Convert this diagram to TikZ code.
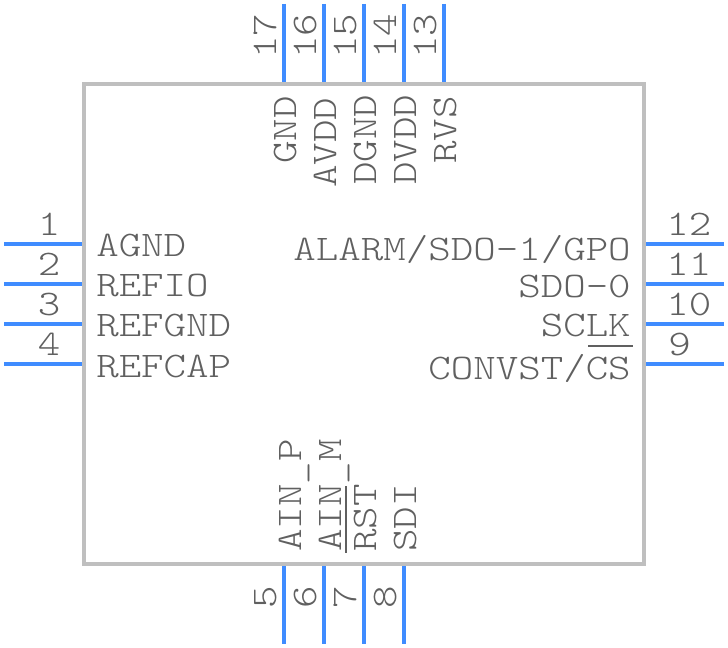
\documentclass[tikz,border=0pt]{standalone}
\usepackage{fontspec}
\setmainfont[FakeStretch=1.19]{Latin Modern Mono Light}
\definecolor{pinblue}{HTML}{3F8CFF}
\definecolor{bodygray}{HTML}{BFBFBF}
\definecolor{textgray}{HTML}{606060}
\newcommand{\lowbar}{\lower1.5pt\hbox{\_}}
\tikzset{
  pin/.style={draw=pinblue,line width=3pt},
  body/.style={draw=bodygray,line width=3pt},
  bar/.style={draw=textgray,line width=1.2pt},
  txt/.style={text=textgray,font=\fontsize{27}{30}\selectfont,inner sep=0pt},
  lbl/.style={txt,anchor=base west},
  lblr/.style={txt,anchor=base east},
  vlbl/.style={txt,rotate=90,anchor=base west}
}
\begin{document}
\begin{tikzpicture}[x=0.75pt,y=-0.75pt]
\useasboundingbox (0,0) rectangle (728,648);

\draw[body] (84,84) rectangle (644,564);

% left side
\foreach \n/\y/\t/\d in {1/244/AGND/13,2/284/REFIO/13,3/324/REFGND/13,4/364/REFCAP/14}
{
\draw[pin] (4,\y) -- (82,\y);
\node[txt,anchor=base] (num\n) at (49,\y-8) {\n};
\node[lbl] (name\n) at (96,\y+\d) {\t};
}

% right side
\foreach \n/\y/\t/\d in {12/244/ALARM\slash SDO-1\slash GPO/17,11/284/SDO-0/14,10/324/SCLK/13,9/364/CONVST\slash CS/15}
{
\draw[pin] (646,\y) -- (724,\y);
\node[lblr] (name\n) at (631,\y+\d) {\t};
}
\foreach \n/\y/\x in {12/236/666,11/276/666,10/316/666,9/356/668}
\node[lbl] (num\n) at (\x,\y) {\n};

% top side
\foreach \n/\x/\t/\b in {17/284/GND/164,16/324/AVDD/188,15/364/DGND/185,14/404/DVDD/185,13/444/RVS/164}
{
\draw[pin] (\x,4) -- (\x,82);
\node[vlbl] (num\n) at (\x-8,59) {\n};
\node[vlbl] (name\n) at (\x+12,\b) {\t};
}

% bottom side
\foreach \n/\x/\t in {5/284/AIN\lowbar P,6/324/AIN\lowbar M,7/364/RST,8/404/SDI}
{
\draw[pin] (\x,566) -- (\x,644);
\node[txt,rotate=90,anchor=base] (num\n) at (\x-8,597) {\n};
\node[vlbl] (name\n) at (\x+\ifnum\n>6 12\else 17\fi,552) {\t};
}

% active low bars
\draw[bar] (588,346) -- (633,346);
\draw[bar] (346,486) -- (346,553);
\end{tikzpicture}
\end{document}
